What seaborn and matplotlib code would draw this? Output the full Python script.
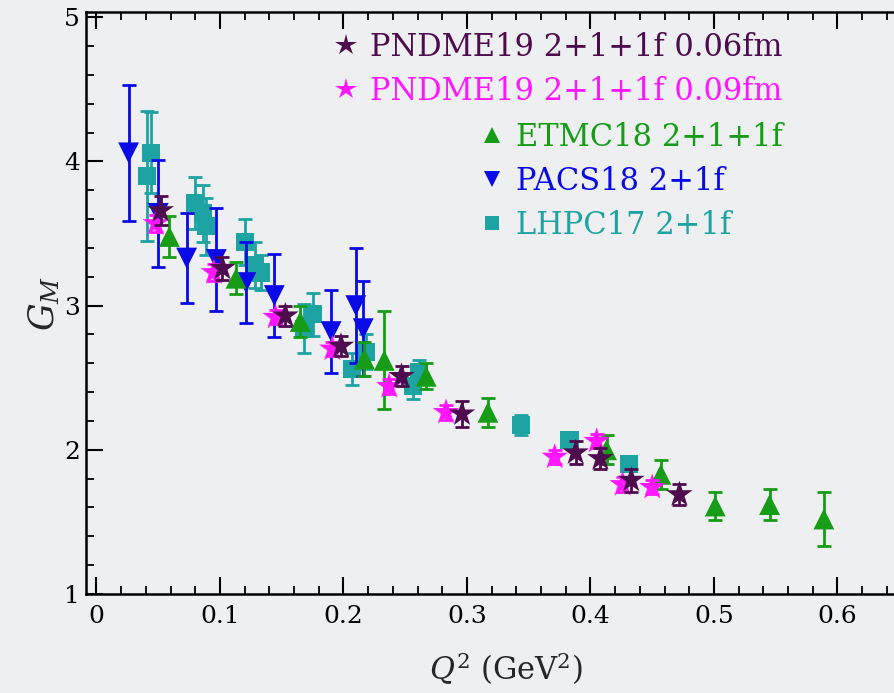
import numpy as np
import pandas as pd
import matplotlib
matplotlib.use("Agg")
import matplotlib.pyplot as plt
from matplotlib.ticker import MultipleLocator
from matplotlib.lines import Line2D
import seaborn as sns

# G_M(Q^2) values
pndme06_q2 = [0.052, 0.102, 0.153, 0.198, 0.247, 0.296, 0.388, 0.408, 0.433, 0.472]
pndme06_gm = [3.66, 3.26, 2.93, 2.72, 2.51, 2.25, 1.98, 1.94, 1.79, 1.69]
pndme06_err = [0.10, 0.08, 0.07, 0.07, 0.07, 0.09, 0.08, 0.07, 0.08, 0.07]

pndme09_q2 = [0.048, 0.095, 0.145, 0.191, 0.237, 0.283, 0.371, 0.405, 0.426, 0.450]
pndme09_gm = [3.57, 3.23, 2.92, 2.70, 2.44, 2.26, 1.95, 2.06, 1.76, 1.74]
pndme09_err = [0.06, 0.06, 0.05, 0.05, 0.05, 0.05, 0.05, 0.05, 0.05, 0.05]

etmc_q2 = [0.059, 0.113, 0.165, 0.217, 0.233, 0.267, 0.317, 0.413, 0.457, 0.501, 0.545, 0.589]
etmc_gm = [3.48, 3.19, 2.89, 2.63, 2.62, 2.51, 2.26, 2.00, 1.83, 1.61, 1.62, 1.52]
etmc_err = [0.14, 0.11, 0.11, 0.12, 0.34, 0.09, 0.10, 0.10, 0.10, 0.10, 0.11, 0.19]

pacs_q2 = [0.026, 0.050, 0.073, 0.097, 0.121, 0.144, 0.190, 0.210, 0.216]
pacs_gm = [4.06, 3.64, 3.33, 3.32, 3.16, 3.07, 2.82, 3.00, 2.84]
pacs_err = [0.47, 0.37, 0.31, 0.36, 0.28, 0.29, 0.29, 0.40, 0.33]

lhpc_q2 = [0.041, 0.044, 0.080, 0.086, 0.089, 0.120, 0.128, 0.133, 0.168, 0.175,
           0.207, 0.218, 0.256, 0.261, 0.344, 0.383, 0.431]
lhpc_gm = [3.90, 4.06, 3.71, 3.64, 3.55, 3.44, 3.28, 3.23, 2.84, 2.94,
           2.56, 2.68, 2.44, 2.54, 2.17, 2.07, 1.90]
lhpc_err = [0.45, 0.28, 0.18, 0.20, 0.20, 0.16, 0.16, 0.12, 0.17, 0.15,
            0.11, 0.12, 0.09, 0.08, 0.07, 0.05, 0.05]

labels = ["PNDME19 2+1+1f 0.06fm", "PNDME19 2+1+1f 0.09fm",
          "ETMC18 2+1+1f", "PACS18 2+1f", "LHPC17 2+1f"]
colors = ["#4e0c4e", "#ff16ff", "#169c16", "#0a0ae6", "#1ea3a3"]
markers = ["*", "*", "^", "v", "s"]
sizes = [20, 20, 15, 15, 13]

sns.set_theme(style="ticks")
bg = "#eeeff1"
plt.rcParams["font.family"] = ["DejaVu Serif"]
plt.rcParams["mathtext.fontset"] = "dejavuserif"

fig = plt.figure(figsize=(8.94, 6.93), dpi=100, facecolor=bg)
# axes run past the right edge of the figure, as in the reference
ax = fig.add_axes([0.0959, 0.1429, 0.94, 0.8398])
ax.set_facecolor(bg)

series = [
    (lhpc_q2, lhpc_gm, lhpc_err, 4),
    (pacs_q2, pacs_gm, pacs_err, 3),
    (etmc_q2, etmc_gm, etmc_err, 2),
    (pndme09_q2, pndme09_gm, pndme09_err, 1),
    (pndme06_q2, pndme06_gm, pndme06_err, 0),
]
for z, (q2, gm, err, i) in enumerate(series):
    df = pd.DataFrame({"q2": q2, "gm": gm, "err": err})
    ax.errorbar(df["q2"], df["gm"], yerr=df["err"], fmt="none", ecolor=colors[i],
                elinewidth=2.0, capsize=5, capthick=2.0, zorder=2 + 2 * z)
    sns.scatterplot(data=df, x="q2", y="gm", marker=markers[i], color=colors[i],
                    s=sizes[i] ** 2, edgecolor="none", linewidth=0, ax=ax,
                    zorder=3 + 2 * z)

x_left = -0.0087
x_right = x_left + 0.94 * 894 / 1235
ax.set_xlim(x_left, x_right)
ax.set_ylim(1.0, 5.037)
ax.xaxis.set_minor_locator(MultipleLocator(0.02))
ax.yaxis.set_major_locator(MultipleLocator(1))
ax.yaxis.set_minor_locator(MultipleLocator(0.2))
ax.set_xticks(np.arange(0, 0.65, 0.1))
ax.set_xticklabels(["0", "0.1", "0.2", "0.3", "0.4", "0.5", "0.6"])
ax.tick_params(which="both", direction="in", top=True, right=True,
               colors="black", labelsize=18)
ax.tick_params(which="major", length=12, width=1.5, pad=8)
ax.tick_params(which="minor", length=6, width=1.3)
ax.tick_params(axis="y", which="major", pad=4)
for sp in ax.spines.values():
    sp.set_color("black")
    sp.set_linewidth(1.8)

ax.set_xlabel(r"$Q^2$ (GeV$^2$)", fontsize=22, labelpad=16)
ax.set_ylabel(r"$G_M$", fontsize=25, labelpad=2)

def make_handle(i):
    return Line2D([], [], linestyle="none", marker=markers[i], color=colors[i],
                  markersize=sizes[i] * 0.8, markeredgewidth=0)

leg1 = ax.legend([make_handle(0), make_handle(1)], labels[:2], loc="upper left",
                 bbox_to_anchor=(0.271, 1.0), frameon=False, fontsize=22,
                 handlelength=0.8, handletextpad=0.4, labelspacing=0.42,
                 borderaxespad=0.25)
for t, c in zip(leg1.get_texts(), colors[:2]):
    t.set_color(c)
ax.add_artist(leg1)
leg2 = ax.legend([make_handle(2), make_handle(3), make_handle(4)], labels[2:],
                 loc="upper left", bbox_to_anchor=(0.445, 0.845), frameon=False,
                 fontsize=22, handlelength=0.8, handletextpad=0.4,
                 labelspacing=0.42, borderaxespad=0.25)
for t, c in zip(leg2.get_texts(), colors[2:]):
    t.set_color(c)

fig.savefig("out.png", dpi=100, facecolor=bg)
